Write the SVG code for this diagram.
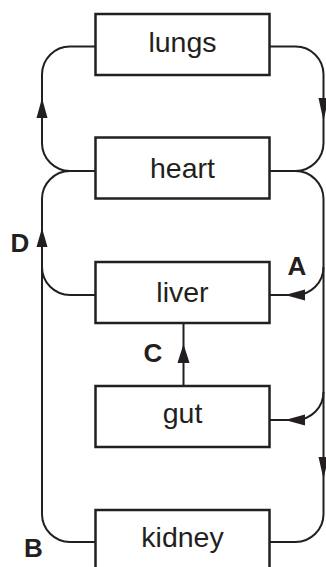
<svg xmlns="http://www.w3.org/2000/svg" width="326" height="567" viewBox="0 0 326 567">
<style>
.box{fill:#fff;stroke:#231f20;stroke-width:2.5}
.lbl{font-family:"Liberation Sans",Arial,sans-serif;font-size:28.5px;fill:#231f20;text-anchor:middle}
.let{font-family:"Liberation Sans",Arial,sans-serif;font-size:26px;font-weight:bold;fill:#231f20;text-anchor:middle}
.ln{fill:none;stroke:#231f20;stroke-width:2}
.ah{fill:#231f20;stroke:none}
</style>
<rect width="326" height="567" fill="#fff"/>
<g id="connectors">
<path class="ln" d="M96,46.5 H70 A28,28 0 0 0 42,74.5 V143 A28,28 0 0 0 70,171 H95"/>
<path class="ln" d="M270,46.5 H295.5 A28,28 0 0 1 323.5,74.5 V143 A28,28 0 0 1 295.5,171 H269"/>
<path class="ln" d="M95,171 H70 A28,28 0 0 0 42,199 V514 A28,28 0 0 0 70,542 H95"/>
<path class="ln" d="M42,267 A28,28 0 0 0 70,295 H95"/>
<path class="ln" d="M269,171 H295.5 A28,28 0 0 1 323.5,199 V514 A28,28 0 0 1 295.5,542 H269"/>
<path class="ln" d="M323.5,267 A28,28 0 0 1 295.5,295 H269"/>
<path class="ln" d="M323.5,392 A28,28 0 0 1 295.5,420 H269"/>
<path class="ln" d="M183.5,386 V323"/>
<polygon class="ah" points="42,98 36.5,118 47.5,118"/>
<polygon class="ah" points="323.5,121 318.5,98 328.5,98"/>
<polygon class="ah" points="42,228 36.5,247 47.5,247"/>
<polygon class="ah" points="285,295 305,289.5 305,300.5"/>
<polygon class="ah" points="285,420 305,414.5 305,425.5"/>
<polygon class="ah" points="183.5,344 177.5,363 189.5,363"/>
<polygon class="ah" points="323.5,479 318.5,457 328.5,457"/>
</g>
<g id="lungs"><rect class="box" x="95.5" y="14" width="174" height="61"/><text class="lbl" x="182.5" y="52">lungs</text></g>
<g id="heart"><rect class="box" x="95.5" y="137.5" width="174" height="61"/><text class="lbl" x="182.5" y="178">heart</text></g>
<g id="liver"><rect class="box" x="95.5" y="262" width="174" height="61"/><text class="lbl" x="182.5" y="301.5">liver</text></g>
<g id="gut"><rect class="box" x="95.5" y="386" width="174" height="61"/><text class="lbl" x="182.5" y="423">gut</text></g>
<g id="kidney"><rect class="box" x="95.5" y="510" width="174" height="80"/><text class="lbl" x="182.5" y="547">kidney</text></g>
<g id="labels">
<text class="let" x="297" y="275">A</text>
<text class="let" x="33.5" y="557">B</text>
<text class="let" x="153" y="362">C</text>
<text class="let" x="20" y="252">D</text>
</g>
</svg>
